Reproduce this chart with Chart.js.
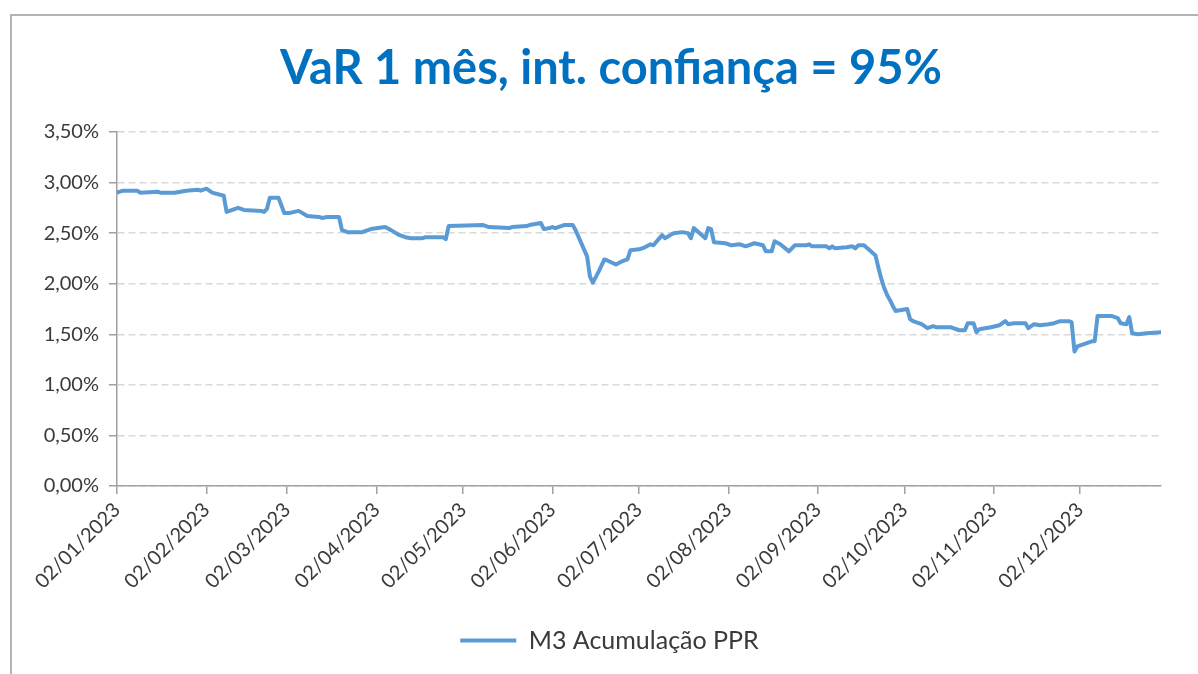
<!DOCTYPE html>
<html>
<head>
<meta charset="utf-8">
<script src="https://cdn.jsdelivr.net/npm/chart.js@4.4.1/dist/chart.umd.min.js"></script>
<style>
  html, body { margin: 0; padding: 0; background: #fff; }
  #wrap { position: relative; width: 1198px; height: 674px; }
  #frame { position: absolute; left: 10px; top: 14px; right: 0; bottom: 0;
           border-left: 2px solid #b4b4b4; border-top: 2px solid #b4b4b4; pointer-events: none; }
</style>
</head>
<body>
<div id="wrap"><canvas id="varChart"></canvas><div id="frame"></div></div>
<script>
const chartTitle = 'VaR 1 mês, int. confiança = 95%';
const seriesLabel = 'M3 Acumulação PPR';

// days since 02/01/2023
const dayOffsets = [
  0, 2, 7, 8, 14, 15, 20, 24, 28, 29, 31, 33, 37, 38, 40, 42, 44, 50, 51, 52,
  53, 56, 58, 60, 63, 66, 70, 71, 73, 77, 78, 80, 85, 88, 93, 95, 98, 100, 102, 106,
  107, 113, 114, 115, 127, 129, 136, 137, 142, 143, 147, 148, 150, 151, 152, 155, 158, 159, 161, 163,
  164, 165, 167, 169, 170, 173, 175, 177, 178, 181, 183, 185, 186, 189, 190, 193, 196, 198, 199, 200,
  204, 205, 206, 207, 211, 213, 216, 218, 221, 224, 225, 227, 228, 230, 233, 235, 239, 240, 241, 246,
  247, 248, 249, 253, 255, 256, 257, 259, 261, 263, 264, 265, 266, 267, 268, 269, 270, 272, 274, 275,
  276, 277, 279, 281, 283, 284, 289, 292, 294, 295, 297, 298, 299, 303, 306, 308, 309, 311, 315, 316,
  318, 320, 323, 325, 327, 330, 331, 332, 333, 336, 338, 339, 340, 345, 347, 348, 350, 351, 352, 354,
  357, 362
];

// VaR in %
const varValues = [
  2.90, 2.92, 2.92, 2.90, 2.91, 2.90, 2.90, 2.92, 2.93, 2.92, 2.94, 2.90, 2.87, 2.71, 2.73, 2.75, 2.73, 2.72, 2.71, 2.74,
  2.85, 2.85, 2.70, 2.70, 2.72, 2.67, 2.66, 2.65, 2.66, 2.66, 2.53, 2.51, 2.51, 2.54, 2.56, 2.53, 2.48, 2.46, 2.45, 2.45,
  2.46, 2.46, 2.44, 2.57, 2.58, 2.56, 2.55, 2.56, 2.57, 2.58, 2.60, 2.54, 2.55, 2.56, 2.55, 2.58, 2.58, 2.53, 2.40, 2.27,
  2.07, 2.01, 2.12, 2.24, 2.23, 2.19, 2.22, 2.24, 2.33, 2.34, 2.36, 2.39, 2.38, 2.48, 2.45, 2.50, 2.51, 2.50, 2.45, 2.55,
  2.45, 2.55, 2.54, 2.41, 2.40, 2.38, 2.39, 2.37, 2.40, 2.38, 2.32, 2.32, 2.42, 2.39, 2.32, 2.38, 2.38, 2.39, 2.37, 2.37,
  2.35, 2.37, 2.35, 2.36, 2.37, 2.35, 2.38, 2.38, 2.33, 2.28, 2.16, 2.05, 1.96, 1.89, 1.84, 1.78, 1.73, 1.74, 1.75, 1.65,
  1.63, 1.62, 1.60, 1.56, 1.58, 1.57, 1.57, 1.54, 1.54, 1.61, 1.61, 1.52, 1.55, 1.57, 1.59, 1.63, 1.60, 1.61, 1.61, 1.56,
  1.60, 1.59, 1.60, 1.61, 1.63, 1.63, 1.62, 1.33, 1.38, 1.41, 1.43, 1.43, 1.68, 1.68, 1.66, 1.61, 1.60, 1.67, 1.51, 1.50,
  1.51, 1.52
];

const tickDays = [0, 31, 59, 90, 120, 151, 181, 212, 243, 273, 304, 334];
const tickLabels = [
  '02/01/2023', '02/02/2023', '02/03/2023', '02/04/2023', '02/05/2023', '02/06/2023',
  '02/07/2023', '02/08/2023', '02/09/2023', '02/10/2023', '02/11/2023', '02/12/2023'
];

const textColor = '#3a3a3a';
const axisFont = 'Lato';
const bottomPad = 11;
const legendShift = 29; // original legend sits a little right of centre

// title is drawn by hand so it can sit a bit right of centre, like the original
const titlePlugin = {
  id: 'varTitle',
  afterLayout(chart) {
    if (chart.legend) {
      chart.legend.left += legendShift;
      chart.legend.right += legendShift;
    }
  },
  afterDraw(chart) {
    const ctx = chart.ctx;
    ctx.save();
    ctx.font = 'bold 47px Lato';
    ctx.fillStyle = '#0070c0';
    ctx.textAlign = 'center';
    ctx.textBaseline = 'alphabetic';
    ctx.fillText(chartTitle, 611, 84);
    ctx.restore();
  }
};

const points = dayOffsets.map((d, i) => ({ x: d, y: varValues[i] }));

const ctx = document.getElementById('varChart').getContext('2d');
const chart = new Chart(ctx, {
  type: 'line',
  data: {
    datasets: [{
      label: seriesLabel,
      data: points,
      borderColor: '#5b9bd5',
      backgroundColor: '#5b9bd5',
      borderWidth: 4,
      borderJoinStyle: 'round',
      borderCapStyle: 'round',
      pointRadius: 0,
      tension: 0,
      fill: false
    }]
  },
  options: {
    responsive: true,
    maintainAspectRatio: false,
    animation: false,
    layout: {
      padding: { left: 0, top: 132, right: 37, bottom: bottomPad }
    },
    plugins: {
      title: { display: false },
      tooltip: { enabled: false },
      legend: {
        position: 'bottom',
        labels: {
          usePointStyle: true,
          pointStyle: 'line',
          pointStyleWidth: 56,
          color: textColor,
          padding: 12,
          font: { family: axisFont, size: 25 }
        }
      }
    },
    scales: {
      x: {
        type: 'linear',
        min: 0,
        max: 362,
        afterBuildTicks(axis) {
          axis.ticks = tickDays.map(v => ({ value: v }));
        },
        afterFit(scale) {
          const lh = scale.chart.legend && scale.chart.legend.height ? scale.chart.legend.height : 50;
          scale.height = scale.chart.height - 486 - lh - bottomPad;
        },
        ticks: {
          autoSkip: false,
          minRotation: 45,
          maxRotation: 45,
          padding: 4,
          color: textColor,
          font: { family: axisFont, size: 20 },
          callback: (value) => {
            const i = tickDays.indexOf(value);
            return i >= 0 ? tickLabels[i] : '';
          }
        },
        grid: {
          drawOnChartArea: false,
          drawTicks: true,
          tickLength: 8,
          tickColor: '#a0a0a0',
          lineWidth: 1.5
        },
        border: { color: '#a0a0a0', width: 1.5 }
      },
      y: {
        min: 0,
        max: 3.5,
        afterFit(scale) {
          scale.width = 117;
        },
        ticks: {
          stepSize: 0.5,
          padding: 10,
          color: textColor,
          font: { family: axisFont, size: 20 },
          callback: (value) => value.toFixed(2).replace('.', ',') + '%'
        },
        grid: {
          color: '#d9d9d9',
          lineWidth: 1.5,
          tickLength: 8,
          tickColor: '#a0a0a0',
          tickBorderDash: [],
          drawTicks: true
        },
        border: { color: '#a0a0a0', width: 1.5, dash: [7, 4] }
      }
    }
  },
  plugins: [titlePlugin]
});
</script>
</body>
</html>
